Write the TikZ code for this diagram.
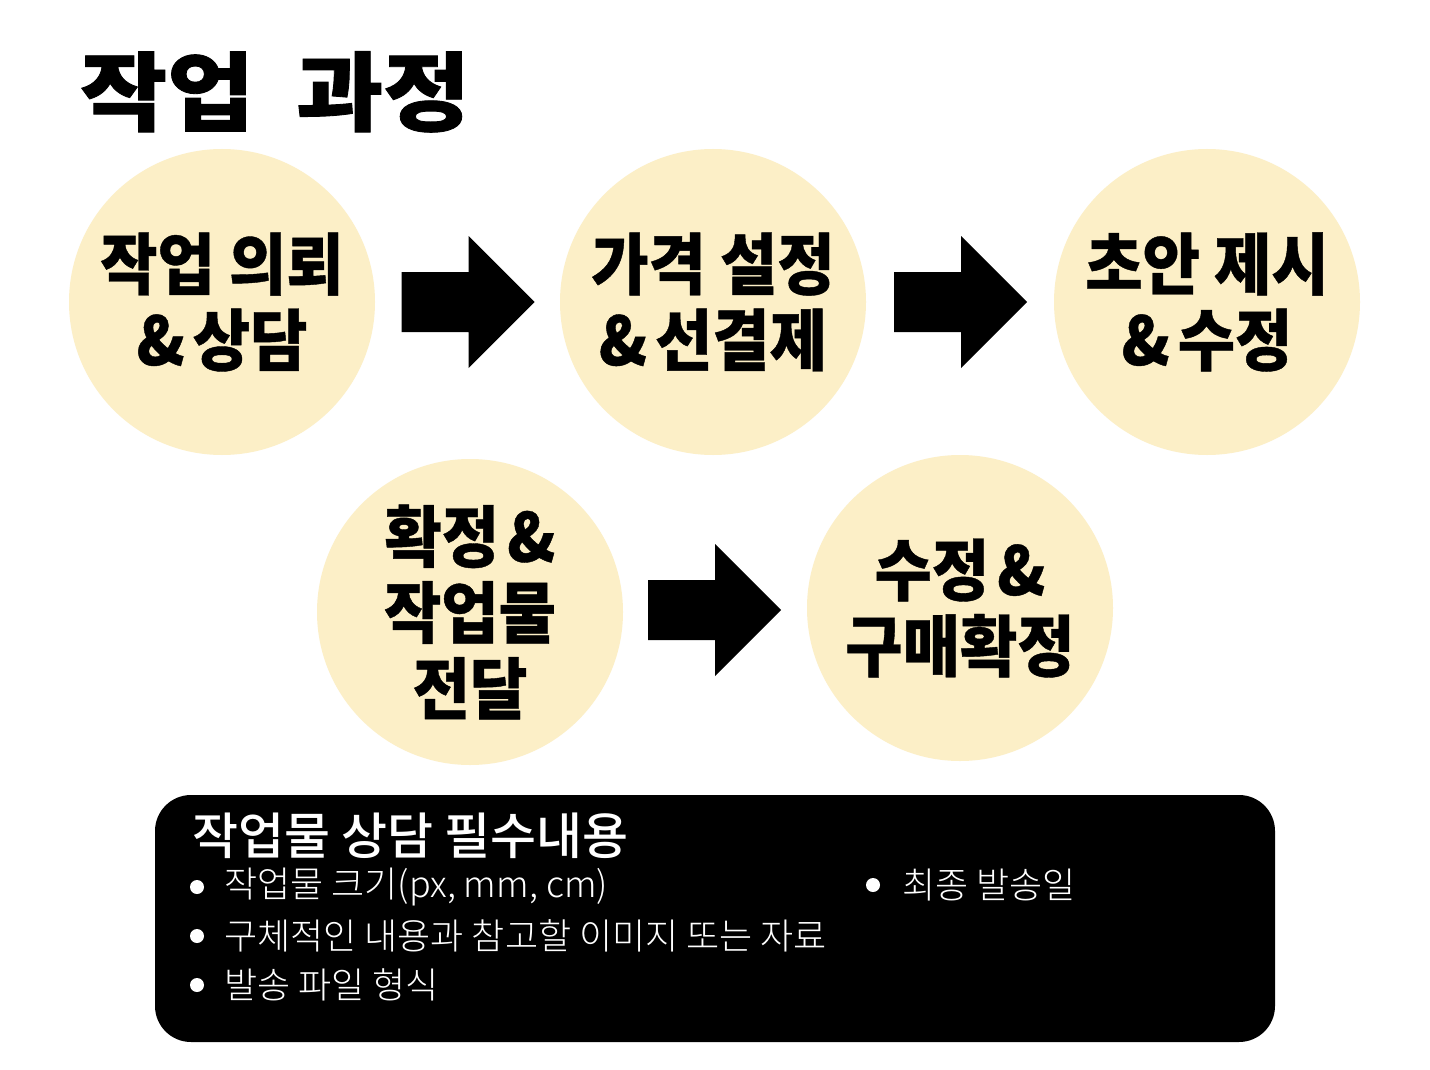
\documentclass[tikz,border=0pt]{standalone}
\usepackage{fontspec}
\usetikzlibrary{calc}
\setmainfont{Noto Sans CJK KR}
\newfontfamily\circfont{Noto Sans CJK KR}[FakeStretch=0.93, FakeBold=0.6]
\newfontfamily\titlefont{Noto Sans CJK KR Black}[FakeStretch=1.1, FakeBold=1]
\newfontfamily\boxtitlefont{Noto Sans CJK KR Medium}
\newfontfamily\listfont{Noto Sans CJK KR Light}
\definecolor{circfill}{HTML}{FCEFC7}
\tikzset{
  stepcircle/.style={circle, fill=circfill, minimum size=306pt, inner sep=0pt,
    align=center, font=\circfont\bfseries\fontsize{67}{76}\selectfont},
  blockarrow/.pic={\fill[black] (-66,-30) -- (1,-30) -- (1,-66) -- (67,0) -- (1,66) -- (1,30) -- (-66,30) -- cycle;},
  itemtext/.style={anchor=west, text=white, inner sep=0pt, font=\listfont\fontsize{36}{40}\selectfont},
  bulletdot/.style={circle, fill=white, inner sep=0pt, minimum size=14pt}
}
\begin{document}
\begin{tikzpicture}[x=1pt, y=-1pt]
\useasboundingbox[fill=white] (0,0) rectangle (1430,1070);
\node[anchor=base west, inner sep=0pt, font=\titlefont\fontsize{86}{90}\selectfont] (title) at (80,124) {작업\hspace{42pt}과정};
\node[stepcircle] (c1) at (222,302) {작업 의뢰\\\&\hspace{8pt}상담};
\node[stepcircle] (c2) at (713,302) {가격 설정\\\&\hspace{8pt}선결제};
\node[stepcircle] (c3) at (1207,302) {초안 제시\\\&\hspace{8pt}수정};
\node[stepcircle] (c4) at (470,612) {확정\hspace{8pt}\&\\작업물\\전달};
\node[stepcircle] (c5) at (960,608) {수정\hspace{8pt}\&\\구매확정};
\path (c1.east) -- (c2.west) coordinate[midway] (m12);
\path (c2.east) -- (c3.west) coordinate[midway] (m23);
\path (c4.east) -- (c5.west) coordinate[midway] (m45);
\pic at (m12) {blockarrow};
\pic at (m23) {blockarrow};
\pic at ($(m45)+(-1,0)$) {blockarrow};
\node[fill=black, rounded corners=36pt, minimum width=1120pt, minimum height=247pt, inner sep=0pt] (box) at (715,918.5) {};
\node[anchor=base west, text=white, inner sep=0pt, font=\boxtitlefont\fontsize{50}{56}\selectfont] (boxtitle) at (192,854) {작업물 상담 필수내용};
\node[bulletdot] (b1) at (197,887) {};
\node[bulletdot] (b2) at (197,936) {};
\node[bulletdot] (b3) at (197,985) {};
\node[bulletdot] (b4) at (873,885) {};
\node[itemtext] (t1) at (224,887) {작업물 크기(px, mm, cm)};
\node[itemtext] (t2) at (224,936) {구체적인 내용과 참고할 이미지 또는 자료};
\node[itemtext] (t3) at (224,985) {발송 파일 형식};
\node[itemtext] (t4) at (902,885) {최종 발송일};
\end{tikzpicture}
\end{document}
